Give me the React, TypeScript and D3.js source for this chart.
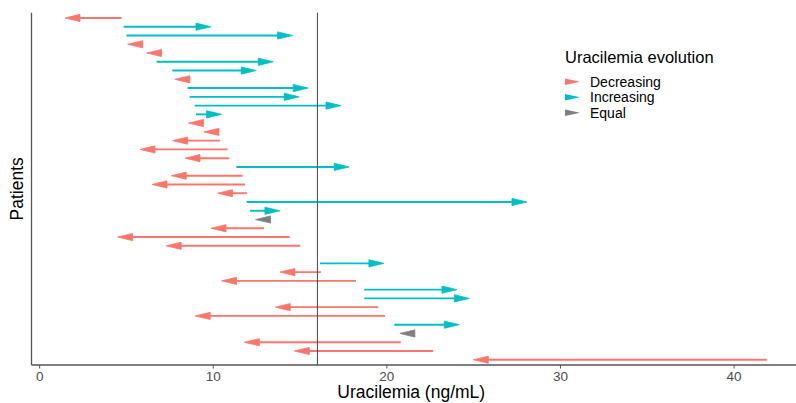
import React from "react";
import * as d3 from "d3";

const patients = Array.from({ length: 40 }, (_, i) => `P${i + 1}`);
const startValues: (number | null)[] = [
  4.72, 4.84, 5.0, 5.93, 7.04, 6.74, 7.64, 8.66, 8.52, 8.64,
  8.93, 9.0, 9.41, 10.33, 10.4, 10.83, 10.92, 11.33, 11.69, 11.83,
  11.94, 11.92, 12.11, 12.44, 12.92, 14.4, 15.01, null, 16.15, 16.2,
  18.22, 18.7, 18.7, 19.5, 19.9, 20.43, 20.75, 20.8, 22.67, 41.88,
];
const endValues: (number | null)[] = [
  1.46, 9.87, 14.57, 5.07, 6.16, 13.46, 12.48, 7.79, 15.47, 14.95,
  17.36, 10.48, 8.58, 9.46, 7.66, 5.78, 8.37, 17.83, 7.58, 6.47,
  10.25, 28.07, 13.84, 12.44, 9.87, 4.49, 7.29, null, 19.83, 13.84,
  10.48, 24.04, 24.75, 13.57, 8.96, 24.17, 20.75, 11.79, 14.67, 24.98,
];
const xTicks = [0, 10, 20, 30, 40];
const threshold = 16;
const legendLabels = ["Decreasing", "Increasing", "Equal"];
const legendColors = ["#F8766D", "#00BFC4", "#7F7F7F"];

const W = 796;
const H = 403;
const panel = { left: 31.5, right: 791, top: 12.7, bottom: 365 };
const FONT = "'Liberation Sans', Arial, sans-serif";

function headPath(tipX: number, y: number, dir: number, len = 15, hw = 3.6) {
  const bx = tipX - dir * len;
  return `M${tipX},${y}L${bx},${y - hw}L${bx},${y + hw}Z`;
}

export default function App() {
  const x = d3.scaleLinear().domain([-0.47, 43.28]).range([panel.left, panel.right]);
  const y = d3
    .scalePoint<string>()
    .domain(patients)
    .range([panel.top, panel.bottom])
    .padding(0.6);

  const rows = patients.map((p, i) => {
    const s = startValues[i];
    const e = endValues[i];
    if (s == null || e == null) return null;
    const type = e < s ? 0 : e > s ? 1 : 2;
    return { p, s, e, type };
  });

  return (
    <svg
      width={W}
      height={H}
      style={{ position: "absolute", left: 0, top: 0, background: "#fff" }}
      fontFamily={FONT}
    >
      <rect width={W} height={H} fill="#fff" />
      {rows.map((r, i) => {
        if (!r) return null;
        const yy = y(r.p)!;
        const color = legendColors[r.type];
        if (r.type === 2) {
          return <path key={i} d={headPath(x(r.e), yy, -1)} fill={color} stroke={color} strokeWidth={0.8} />;
        }
        const dir = r.type === 1 ? 1 : -1;
        return (
          <g key={i}>
            <line
              x1={x(r.s)}
              x2={x(r.e) - dir * 6}
              y1={yy}
              y2={yy}
              stroke={color}
              strokeWidth={1.9}
            />
            <path d={headPath(x(r.e), yy, dir)} fill={color} stroke={color} strokeWidth={0.8} strokeLinejoin="miter" />
          </g>
        );
      })}
      <line x1={x(threshold)} x2={x(threshold)} y1={panel.top} y2={panel.bottom} stroke="#444" strokeWidth={1} />
      <line x1={panel.left} x2={panel.left} y1={panel.top} y2={panel.bottom} stroke="#555" strokeWidth={1.3} />
      <line x1={panel.left} x2={W} y1={panel.bottom} y2={panel.bottom} stroke="#555" strokeWidth={1.3} />
      {xTicks.map((t) => (
        <g key={t}>
          <line x1={x(t)} x2={x(t)} y1={panel.bottom} y2={panel.bottom + 3.5} stroke="#555" strokeWidth={1} />
          <text x={x(t)} y={380.5} textAnchor="middle" fontSize={13.5} fill="#4D4D4D">
            {t}
          </text>
        </g>
      ))}
      <text x={(panel.left + panel.right) / 2} y={398} textAnchor="middle" fontSize={17.5} fill="#000">
        Uracilemia (ng/mL)
      </text>
      <text
        transform={`translate(23,${(panel.top + panel.bottom) / 2}) rotate(-90)`}
        textAnchor="middle"
        fontSize={17.5}
        fill="#000"
      >
        Patients
      </text>
      <g>
        <text x={565} y={62.5} fontSize={16.5} fill="#000">
          Uracilemia evolution
        </text>
        {legendLabels.map((l, i) => {
          const ly = 81.7 + i * 15.5;
          return (
            <g key={l}>
              <path d={`M565,${ly - 3.3}L580,${ly}L565,${ly + 3.3}Z`} fill={legendColors[i]} />
              <text x={590} y={ly + 5} fontSize={14} fill="#000">
                {l}
              </text>
            </g>
          );
        })}
      </g>
    </svg>
  );
}
